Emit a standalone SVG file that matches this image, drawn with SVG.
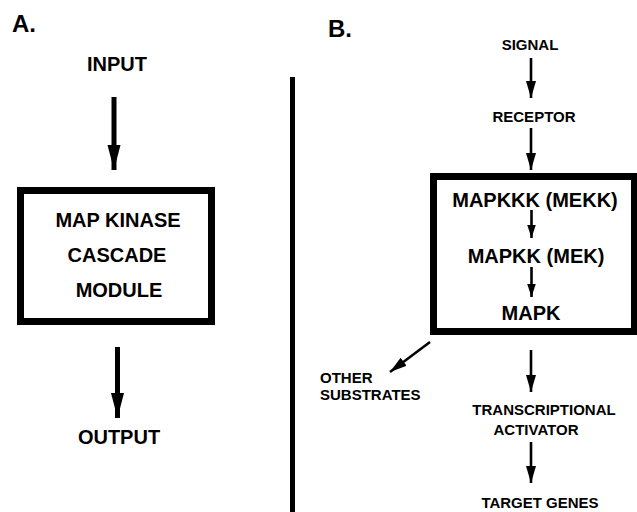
<svg xmlns="http://www.w3.org/2000/svg" width="637" height="512" viewBox="0 0 637 512">
<style>
text{font-family:"Liberation Sans",Arial,sans-serif;font-weight:bold;fill:#000}
.s{font-size:15px}
.m{font-size:20px}
.l{font-size:24px}
.c{text-anchor:middle}
.box{fill:none;stroke:#000;stroke-width:7}
.shaftA{stroke:#000;stroke-width:5;fill:none}
.shaftB{stroke:#000;stroke-width:2.6;fill:none}
</style>
<defs>
<marker id="hA" markerUnits="userSpaceOnUse" markerWidth="26" markerHeight="14" refX="25" refY="6.5" orient="auto"><path d="M0,0 L25,6.5 L0,13 z" fill="#000"/></marker>
<marker id="hB" markerUnits="userSpaceOnUse" markerWidth="18" markerHeight="11" refX="17" refY="5" orient="auto"><path d="M0,0 L17,5 L0,10 z" fill="#000"/></marker>
<marker id="hC" markerUnits="userSpaceOnUse" markerWidth="14" markerHeight="10" refX="13" refY="4.25" orient="auto"><path d="M0,0 L13,4.25 L0,8.5 z" fill="#000"/></marker>
</defs>
<rect width="637" height="512" fill="#fff"/>
<g id="labels">
<text class="l" x="12" y="32">A.</text>
<text class="l" x="328" y="37">B.</text>
</g>
<line id="divider" x1="292.5" y1="77" x2="292.5" y2="512" stroke="#000" stroke-width="5"/>
<g id="input"><text class="m c" x="117" y="71">INPUT</text></g>
<g id="moduleA">
<rect class="box" x="20.5" y="190.5" width="191" height="131"/>
<text class="m c" x="118" y="227">MAP KINASE</text>
<text class="m c" x="117" y="262">CASCADE</text>
<text class="m c" x="119" y="297">MODULE</text>
</g>
<g id="output"><text class="m c" x="119" y="444">OUTPUT</text></g>
<g id="signal"><text class="s c" x="530" y="50">SIGNAL</text></g>
<g id="receptor"><text class="s c" x="534" y="122">RECEPTOR</text></g>
<g id="moduleB">
<rect class="box" x="433.5" y="176.5" width="201" height="155"/>
<text class="m c" x="535" y="207">MAPKKK (MEKK)</text>
<text class="m c" x="536" y="263">MAPKK (MEK)</text>
<text class="m c" x="531" y="320">MAPK</text>
</g>
<g id="other"><text class="s" x="320" y="383">OTHER</text><text class="s" x="320" y="400">SUBSTRATES</text></g>
<g id="activator"><text class="s c" x="544" y="415">TRANSCRIPTIONAL</text><text class="s c" x="536" y="435">ACTIVATOR</text></g>
<g id="genes"><text class="s c" x="540" y="508">TARGET GENES</text></g>
<g id="connectors">
<line class="shaftA" x1="114" y1="97" x2="114" y2="170" marker-end="url(#hA)"/>
<line class="shaftA" x1="117.5" y1="347" x2="117.5" y2="418" marker-end="url(#hA)"/>
<line class="shaftB" x1="531" y1="58" x2="531" y2="98" marker-end="url(#hB)"/>
<line class="shaftB" x1="531" y1="128" x2="531" y2="170" marker-end="url(#hB)"/>
<line class="shaftB" x1="531.5" y1="210" x2="531.5" y2="238" marker-end="url(#hC)"/>
<line class="shaftB" x1="531.5" y1="267" x2="531.5" y2="297" marker-end="url(#hC)"/>
<line class="shaftB" x1="531" y1="350" x2="531" y2="392" marker-end="url(#hB)"/>
<line class="shaftB" x1="531" y1="442" x2="531" y2="483" marker-end="url(#hB)"/>
<line class="shaftB" x1="430" y1="342" x2="390" y2="372" marker-end="url(#hB)"/>
</g>
</svg>
